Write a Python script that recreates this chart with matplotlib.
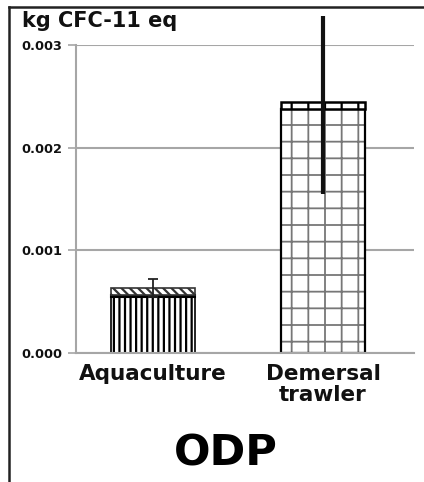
import matplotlib
matplotlib.use("Agg")
import matplotlib.pyplot as plt
from matplotlib.lines import Line2D

categories = ["Aquaculture", "Demersal\ntrawler"]
base_vals = [0.000545, 0.00238]
mid_vals = [0.00002, 0.0]
top_vals = [0.00007, 0.00006]
err_low = [0.00009, 0.00089]
err_high = [0.000086, 0.00084]
y_ticks = [0.000, 0.001, 0.002, 0.003]
y_tick_labels = ["0.000", "0.001", "0.002", "0.003"]
unit_label = "kg CFC-11 eq"
title = "ODP"

plt.rcParams['font.family'] = ['DejaVu Sans']
plt.rcParams['hatch.linewidth'] = 1.6

W, H = 424, 482
fig = plt.figure(figsize=(W / 100, H / 100), dpi=100)
ax = fig.add_axes([76 / W, (H - 353) / H, (414 - 76) / W, (353 - 45) / H])

ax.set_xlim(-0.453, 1.535)
ax.set_ylim(0, 0.003)

grey = "#a6a6a6"
for s in ["top", "right"]:
    ax.spines[s].set_visible(False)
for s in ["left", "bottom"]:
    ax.spines[s].set_color(grey)
    ax.spines[s].set_linewidth(1.5)

ax.yaxis.grid(True, color=grey, linewidth=1.5)
ax.set_axisbelow(True)
ax.set_yticks(y_ticks)
ax.set_yticklabels(y_tick_labels, fontsize=9.3, fontweight="bold", color="#111111")
ax.tick_params(axis="y", length=6, width=1.2, color=grey, pad=4)
ax.set_xticks([])

bw = 0.49
totals = [b + m + t for b, m, t in zip(base_vals, mid_vals, top_vals)]

# Aquaculture
ax.bar(0, base_vals[0], width=bw, color="white", edgecolor="black",
       hatch="|||", linewidth=1.2)
ax.bar(0, mid_vals[0], bottom=base_vals[0], width=bw, color="#222222",
       edgecolor="black", linewidth=1.5)
ax.bar(0, top_vals[0], bottom=base_vals[0] + mid_vals[0], width=bw,
       color="white", edgecolor="#333333", hatch="\\\\\\\\", linewidth=1.2)

# Demersal trawler
b1 = ax.bar(1, base_vals[1], width=bw, color="white", edgecolor="#666666",
            hatch="+", linewidth=1.2)
b1[0].set_hatch_linewidth(1.3)
b1[0].set_edgecolor("black")
b1[0].set_linewidth(1.6)
b1[0]._hatch_color = matplotlib.colors.to_rgba("#777777")
b2 = ax.bar(1, top_vals[1], bottom=base_vals[1] + mid_vals[1], width=bw,
            color="white", edgecolor="black", hatch="|", linewidth=1.8)

# error bars
ax.errorbar(0, totals[0], yerr=[[err_low[0]], [err_high[0]]], fmt="none",
            ecolor="#222222", elinewidth=1.3, capsize=3.5, capthick=1.3,
            clip_on=False, zorder=5)
ax.errorbar(1, totals[1], yerr=[[err_low[1]], [err_high[1]]], fmt="none",
            ecolor="#111111", elinewidth=3, capsize=0, clip_on=False, zorder=5)

# category labels
for i, c in enumerate(categories):
    ax.text(i, -0.000105, c, ha="center", va="top", fontsize=15.5,
            fontweight="bold", linespacing=1.05, color="#111111",
            transform=ax.transData, clip_on=False)

fig.text(22 / W, 1 - 21 / H, unit_label, ha="left", va="center",
         fontsize=15, fontweight="bold", color="#111111")
fig.text(226 / W, 1 - 454 / H, title, ha="center", va="center",
         fontsize=31, fontweight="bold")

# outer frame (left + top)
fig.add_artist(Line2D([9 / W, 9 / W], [0, 1 - 7 / H], transform=fig.transFigure,
                      color="#222222", linewidth=1.8))
fig.add_artist(Line2D([9 / W, 1], [1 - 7 / H, 1 - 7 / H], transform=fig.transFigure,
                      color="#222222", linewidth=1.8))

fig.savefig("out.png", dpi=100)
